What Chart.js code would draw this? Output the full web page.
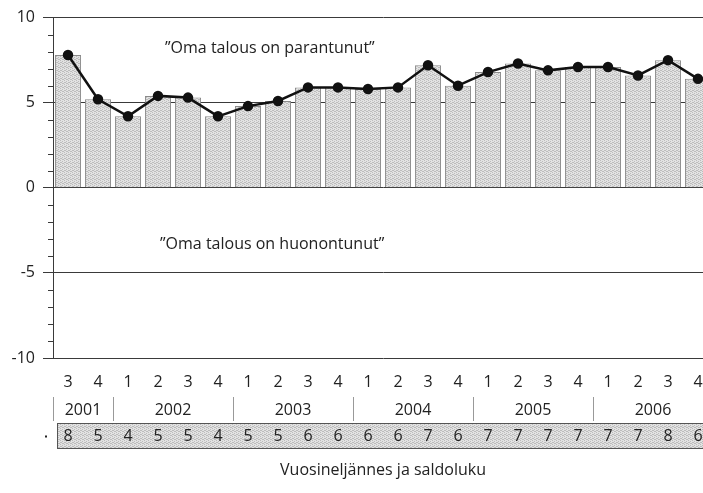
<!DOCTYPE html>
<html>
<head>
<meta charset="utf-8">
<script src="https://cdn.jsdelivr.net/npm/chart.js@4/dist/chart.umd.min.js"></script>
<style>
html, body { margin: 0; padding: 0; overflow: hidden; background: #fff; }
canvas { display: block; }
</style>
</head>
<body>
<canvas id="myChart" width="720" height="493"></canvas>
<script>
// quarters shown under the bars, and the year each one belongs to
var neljannes = ['3','4','1','2','3','4','1','2','3','4','1','2','3','4','1','2','3','4','1','2','3','4'];
var vuosi = [2001,2001,2002,2002,2002,2002,2003,2003,2003,2003,2004,2004,2004,2004,2005,2005,2005,2005,2006,2006,2006,2006];
// balance figure (saldoluku) per quarter
var saldo = [7.8,5.2,4.2,5.4,5.3,4.2,4.8,5.1,5.9,5.9,5.8,5.9,7.2,6.0,6.8,7.3,6.9,7.1,7.1,6.6,7.5,6.4];
// rounded values printed in the table row
var saldoluku = ['8','5','4','5','5','4','5','5','6','6','6','6','7','6','7','7','7','7','7','7','8','6'];
var tekstit = ['\u201DOma talous on parantunut\u201D', '\u201DOma talous on huonontunut\u201D'];

var ctx = document.getElementById('myChart').getContext('2d');
var FONT = '"Open Sans", "DejaVu Sans", sans-serif';
var TEXT = '#222';

// stippled grey fill like the printed original
function pilkutus(base, dot) {
  var c = document.createElement('canvas');
  c.width = 4; c.height = 4;
  var g = c.getContext('2d');
  g.fillStyle = base; g.fillRect(0, 0, 4, 4);
  g.fillStyle = dot;
  g.fillRect(0, 0, 1, 1); g.fillRect(2, 1, 1, 1); g.fillRect(1, 2, 1, 1); g.fillRect(3, 3, 1, 1);
  g.fillRect(2, 3, 1, 1); g.fillRect(0, 2, 1, 1);
  return ctx.createPattern(c, 'repeat');
}
var harmaa = pilkutus('#e2e2e2', '#bcbcbc');

// extra drawing: minor ticks, the two captions, year row and value table
var lisat = {
  id: 'lisat',
  afterDraw: function(chart) {
    var c = chart.ctx, x = chart.scales.x, y = chart.scales.y, a = chart.chartArea;
    var leveys = x.getPixelForValue(1) - x.getPixelForValue(0);
    c.save();
    c.strokeStyle = '#3a3a3a';
    c.lineWidth = 1;
    for (var v = -10; v <= 10; v++) {
      if (v % 5 === 0) continue;
      var py = Math.round(y.getPixelForValue(v)) + 0.5;
      c.beginPath(); c.moveTo(a.left - 5, py); c.lineTo(a.left, py); c.stroke();
    }

    c.fillStyle = TEXT;
    c.font = '16px ' + FONT;
    c.textBaseline = 'middle';
    c.textAlign = 'left';
    c.fillText(tekstit[0], x.getPixelForValue(3) + 7, y.getPixelForValue(8.2));
    c.fillText(tekstit[1], x.getPixelForValue(3) + 2, y.getPixelForValue(-3.3));

    // year row
    c.textAlign = 'center';
    var yy = a.bottom + 52;
    c.strokeStyle = '#999';
    var alku = 0;
    for (var i = 1; i <= vuosi.length; i++) {
      if (i === vuosi.length || vuosi[i] !== vuosi[alku]) {
        var vasen = x.getPixelForValue(alku) - leveys / 2;
        var oikea = x.getPixelForValue(i - 1) + leveys / 2;
        var sx = Math.round(vasen) + 0.5;
        c.beginPath(); c.moveTo(sx, a.bottom + 39); c.lineTo(sx, a.bottom + 63); c.stroke();
        c.fillText(String(vuosi[alku]), (vasen + oikea) / 2, yy);
        alku = i;
      }
    }

    // value table
    var top = a.bottom + 65.5;
    c.fillStyle = harmaa;
    c.fillRect(a.left + 4, top, a.right - a.left + 20, 25);
    c.strokeStyle = '#555';
    c.strokeRect(a.left + 4.5, top, a.right - a.left + 20, 25);
    c.fillStyle = TEXT;
    for (var k = 0; k < saldoluku.length; k++) {
      c.fillText(saldoluku[k], x.getPixelForValue(k), top + 13);
    }
    c.fillRect(a.left - 8, top + 12, 2, 2);
    c.restore();
  }
};

var myChart = new Chart(ctx, {
  type: 'bar',
  data: {
    labels: neljannes,
    datasets: [{
      type: 'line',
      data: saldo,
      borderColor: '#111',
      borderWidth: 2.5,
      pointRadius: 4,
      pointBackgroundColor: '#111',
      pointBorderColor: '#111',
      tension: 0,
      order: 0
    }, {
      data: saldo,
      backgroundColor: harmaa,
      borderColor: '#8a8a8a',
      borderWidth: 1,
      barPercentage: 0.87,
      categoryPercentage: 1,
      order: 1
    }]
  },
  options: {
    responsive: false,
    animation: false,
    devicePixelRatio: 1,
    layout: { padding: { top: 16, right: 7, left: 0, bottom: 0 } },
    plugins: { legend: { display: false }, tooltip: { enabled: false } },
    scales: {
      x: {
        grid: { display: false, drawTicks: false },
        border: { display: false },
        ticks: { color: TEXT, font: { family: FONT, size: 16 }, padding: 15, maxRotation: 0, autoSkip: false },
        title: { display: true, text: 'Vuosineljännes ja saldoluku', color: TEXT, font: { family: FONT, size: 16 }, padding: { top: 0, bottom: 13 } },
        afterFit: function(s) { s.height = 135; }
      },
      y: {
        min: -10,
        max: 10,
        grid: { color: '#3a3a3a', lineWidth: 1, tickLength: 10 },
        border: { display: true, color: '#3a3a3a', width: 1 },
        ticks: { stepSize: 5, color: TEXT, font: { family: FONT, size: 16 }, padding: 8 },
        afterFit: function(s) { s.width = 53; }
      }
    }
  },
  plugins: [lisat]
});
</script>
</body>
</html>
